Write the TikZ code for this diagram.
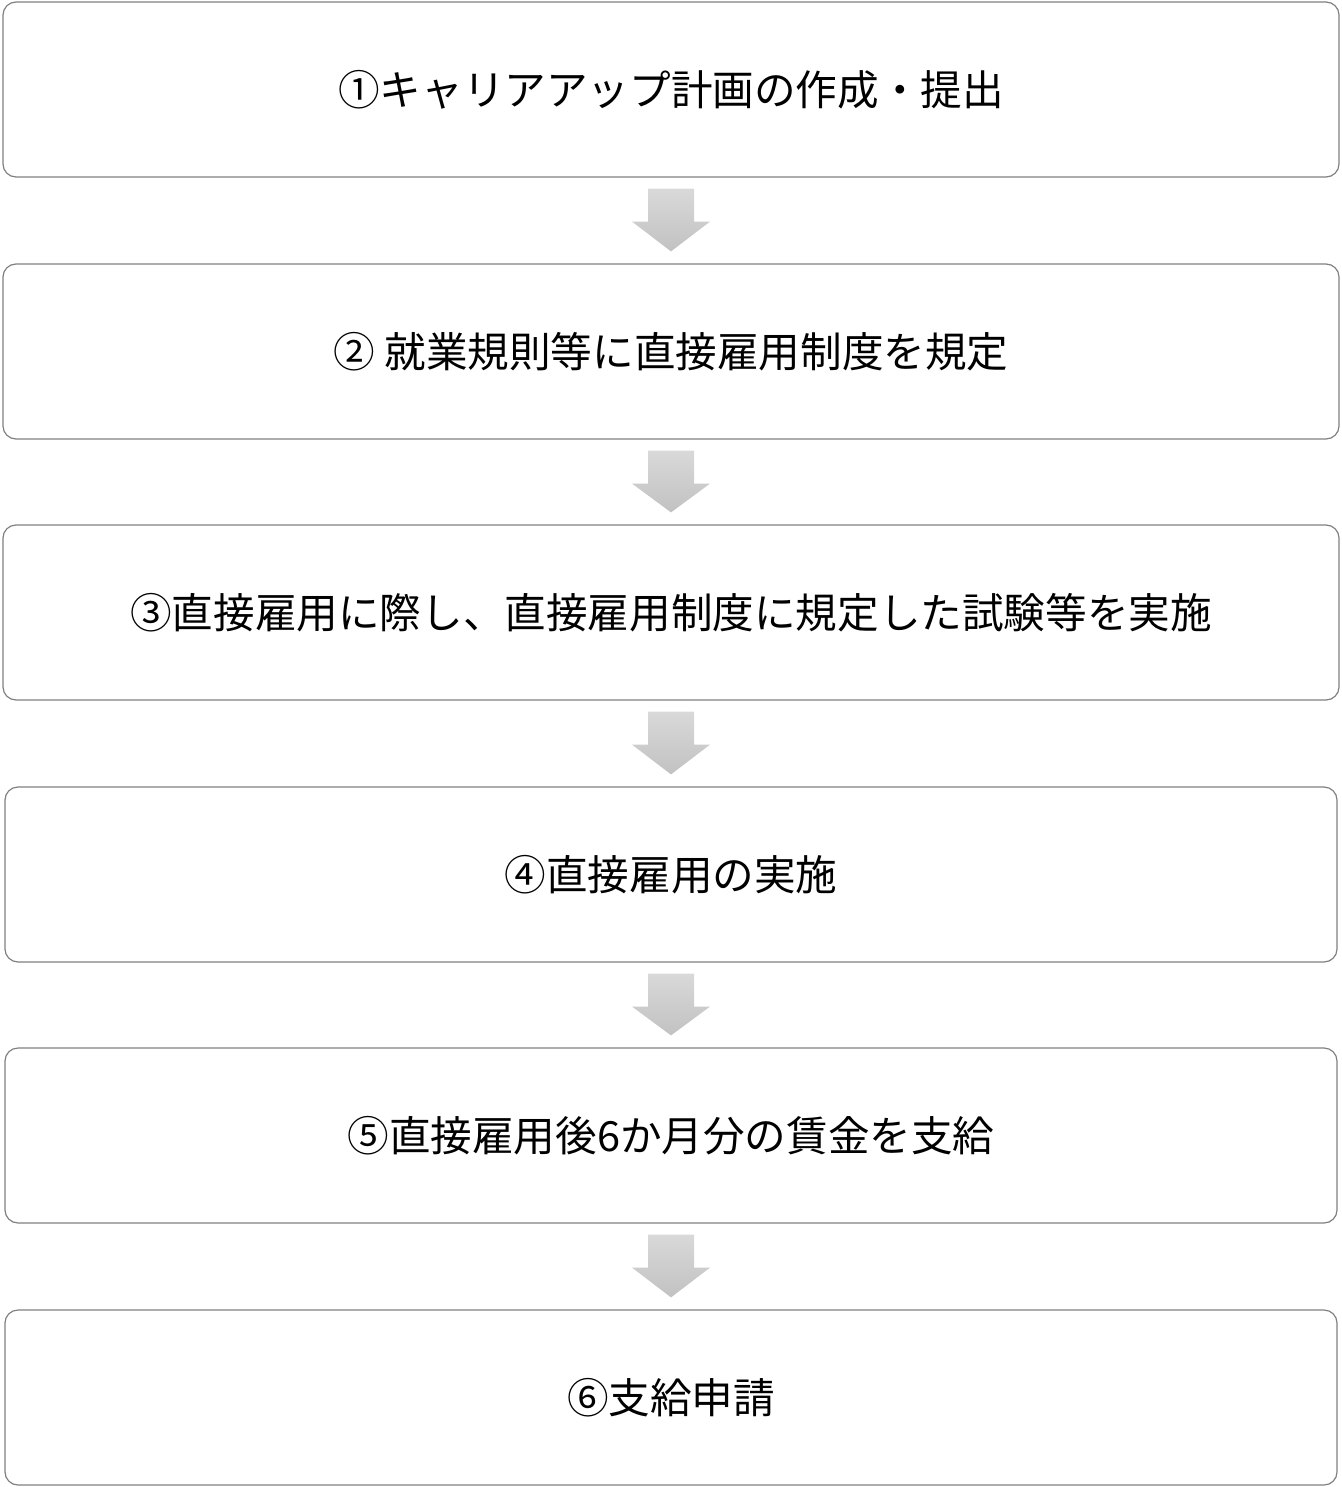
\documentclass[tikz,border=0pt]{standalone}
\usepackage{fontspec}
\setmainfont{Noto Sans CJK JP}
\usetikzlibrary{calc}
\definecolor{boxgray}{RGB}{128,128,128}
\begin{document}
\begin{tikzpicture}[x=0.5pt,y=-0.5pt, font=\fontsize{20.8}{25}\selectfont, line join=round,
    stepbox/.style={draw=boxgray, line width=0.6pt, rounded corners=6.5pt, minimum width=668pt, minimum height=87.5pt, inner sep=0pt},
    narrowbox/.style={stepbox, minimum width=666pt}]
    \useasboundingbox (0,0) rectangle (1342,1487);
    \node[stepbox] (s1) at (671,89.5) {①キャリアアップ計画の作成・提出};
    \node[stepbox] (s2) at (671,351.5) {② 就業規則等に直接雇用制度を規定};
    \node[stepbox] (s3) at (671,612.5) {③直接雇用に際し、直接雇用制度に規定した試験等を実施};
    \node[narrowbox] (s4) at (671,874.5) {④直接雇用の実施};
    \node[narrowbox] (s5) at (671,1135.5) {⑤直接雇用後6か月分の賃金を支給};
    \node[narrowbox] (s6) at (671,1397.5) {⑥支給申請};
    % block arrows between the steps
    \foreach \a/\b in {s1/s2,s2/s3,s3/s4,s4/s5,s5/s6}
        \shade[top color=gray!30, bottom color=gray!48]
            ($(\a.south)+(-23,11)$) -- ($(\a.south)+(23,11)$) -- ($(\a.south)+(23,44)$) -- ($(\a.south)+(39,44)$)
            -- ($(\b.north)+(0,-12)$) -- ($(\a.south)+(-39,44)$) -- ($(\a.south)+(-23,44)$) -- cycle;
\end{tikzpicture}
\end{document}
